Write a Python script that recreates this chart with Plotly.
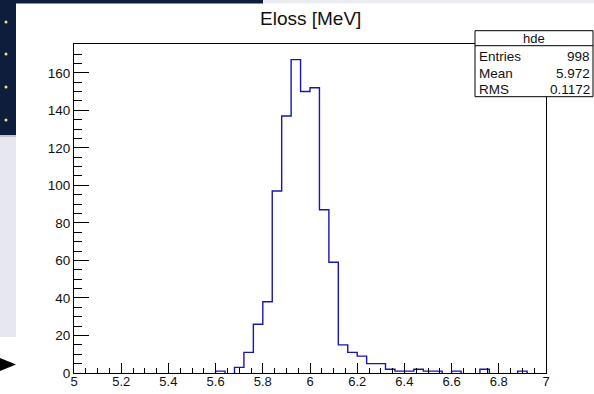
import plotly.graph_objects as go

# ---------------- data ----------------
bin_low = 5.0
bin_width = 0.04
counts = [0, 0, 0, 0, 0, 0, 0, 0, 0, 0,
          0, 0, 0, 0, 0, 1, 0, 3, 11, 26,
          38, 97, 137, 167, 150, 152, 87, 59, 15, 11,
          9, 5, 5, 2, 1, 1, 2, 1, 1, 0,
          1, 0, 0, 2, 0, 0, 0, 1, 0, 0]
x_tick_vals = [5.0, 5.2, 5.4, 5.6, 5.8, 6.0, 6.2, 6.4, 6.6, 6.8, 7.0]
x_tick_labels = ["5", "5.2", "5.4", "5.6", "5.8", "6", "6.2", "6.4", "6.6", "6.8", "7"]
y_tick_vals = [0, 20, 40, 60, 80, 100, 120, 140, 160]
y_tick_labels = ["0", "20", "40", "60", "80", "100", "120", "140", "160"]
title_text = "Eloss [MeV]"
stats_name = "hde"
stats_rows = [("Entries", "998"), ("Mean", "5.972"), ("RMS", "0.1172")]

edges = [bin_low + bin_width * i for i in range(len(counts) + 1)]

# outline of the histogram, broken where bins are empty (ROOT hides them under the axis)
hx, hy = [], []
i = 0
n = len(counts)
while i < n:
    if counts[i] == 0:
        i += 1
        continue
    j = i
    while j < n and counts[j] != 0:
        j += 1
    hx += [edges[i]] + edges[i:j + 1] + [None]
    hy += [0] + counts[i:j] + [0] + [None]
    i = j

# ---------------- geometry ----------------
W, H = 594, 394
L, R, T, B = 74, 546, 44, 373
PW, PH = R - L, B - T


def px(x):
    return (x - L) / PW


def py(y):
    return (B - y) / PH


FONT = "Liberation Sans, Arial, Helvetica, sans-serif"

fig = go.Figure()
fig.add_trace(go.Scatter(
    x=hx, y=hy, mode="lines", line_shape="hv", connectgaps=False,
    line=dict(color="#1616b4", width=1.4),
    hoverinfo="skip", showlegend=False,
))

shapes = []
# decorative surroundings (screen background)
shapes.append(dict(type="rect", xref="paper", yref="paper",
                   x0=px(0), x1=px(16), y0=py(0), y1=py(135),
                   fillcolor="#0c1e3b", line_width=0, layer="below"))
shapes.append(dict(type="rect", xref="paper", yref="paper",
                   x0=px(0), x1=px(263), y0=py(0), y1=py(3.5),
                   fillcolor="#0c1e3b", line_width=0, layer="below"))
shapes.append(dict(type="rect", xref="paper", yref="paper",
                   x0=px(263), x1=px(594), y0=py(0), y1=py(3.5),
                   fillcolor="#ebebf2", line_width=0, layer="below"))
shapes.append(dict(type="rect", xref="paper", yref="paper",
                   x0=px(0), x1=px(16), y0=py(135), y1=py(137.5),
                   fillcolor="#c4c4c8", line_width=0, layer="below"))
shapes.append(dict(type="rect", xref="paper", yref="paper",
                   x0=px(0), x1=px(16), y0=py(137.5), y1=py(337),
                   fillcolor="#e7e7ef", line_width=0, layer="below"))
for yy in [22, 54, 87, 120]:
    shapes.append(dict(type="circle", xref="paper", yref="paper",
                       x0=px(4.5), x1=px(7.5), y0=py(yy - 1.5), y1=py(yy + 1.5),
                       fillcolor="#f2e38a", line_width=0, layer="below"))
arrow = "M {} {} L {} {} L {} {} Z".format(px(0), py(358), px(16), py(364.5), px(0), py(371))
shapes.append(dict(type="path", xref="paper", yref="paper", path=arrow,
                   fillcolor="black", line_width=0, layer="below"))

# stats box
bx0, bx1, by0, by1, bmid = 475, 593, 30.7, 96.7, 45.7
shapes.append(dict(type="rect", xref="paper", yref="paper",
                   x0=px(bx0), x1=px(bx1), y0=py(by0), y1=py(by1),
                   fillcolor="white", line=dict(color="black", width=1), layer="above"))
shapes.append(dict(type="line", xref="paper", yref="paper",
                   x0=px(bx0), x1=px(bx1), y0=py(bmid), y1=py(bmid),
                   line=dict(color="black", width=1), layer="above"))

annotations = []
annotations.append(dict(text=title_text, xref="paper", yref="paper",
                        x=px(310), y=py(18), xanchor="center", yanchor="middle",
                        showarrow=False, font=dict(family=FONT, size=19, color="#111")))
annotations.append(dict(text=stats_name, xref="paper", yref="paper",
                        x=px((bx0 + bx1) / 2), y=py(38.5), xanchor="center", yanchor="middle",
                        showarrow=False, font=dict(family=FONT, size=13, color="#111")))
row_y = [57, 73.5, 89]
for (lab, val), yy in zip(stats_rows, row_y):
    annotations.append(dict(text=lab, xref="paper", yref="paper",
                            x=px(bx0 + 2), y=py(yy), xanchor="left", yanchor="middle",
                            showarrow=False, font=dict(family=FONT, size=13.5, color="#111")))
    annotations.append(dict(text=val, xref="paper", yref="paper",
                            x=px(bx1 - 1), y=py(yy), xanchor="right", yanchor="middle",
                            showarrow=False, font=dict(family=FONT, size=13.5, color="#111")))

fig.update_layout(
    width=W, height=H, autosize=False,
    margin=dict(l=L, r=W - R, t=T, b=H - B, pad=0, autoexpand=False),
    paper_bgcolor="white", plot_bgcolor="white",
    shapes=shapes, annotations=annotations,
    font=dict(family=FONT, size=13, color="#111"),
    xaxis=dict(range=[5, 7], tickvals=x_tick_vals, ticktext=x_tick_labels,
               ticks="inside", ticklen=10, tickwidth=1, tickcolor="black",
               minor=dict(dtick=0.05, tick0=5, ticks="inside", ticklen=5,
                          tickwidth=1, tickcolor="black"),
               showline=True, linecolor="black", linewidth=1, mirror=True,
               showgrid=False, zeroline=False, fixedrange=True, automargin=False,
               ticklabelstandoff=-4,
               tickfont=dict(family=FONT, size=13, color="#111")),
    yaxis=dict(range=[0, 175.35], tickvals=y_tick_vals, ticktext=y_tick_labels,
               ticks="inside", ticklen=15, tickwidth=1, tickcolor="black",
               minor=dict(dtick=5, tick0=0, ticks="inside", ticklen=8,
                          tickwidth=1, tickcolor="black"),
               showline=True, linecolor="black", linewidth=1, mirror=True,
               showgrid=False, zeroline=False, fixedrange=True, automargin=False,
               tickfont=dict(family=FONT, size=13.5, color="#111")),
)

fig.write_html("out.html", config={"displayModeBar": False},
               post_script="document.body.style.margin='0px';document.body.style.overflow='hidden';")
